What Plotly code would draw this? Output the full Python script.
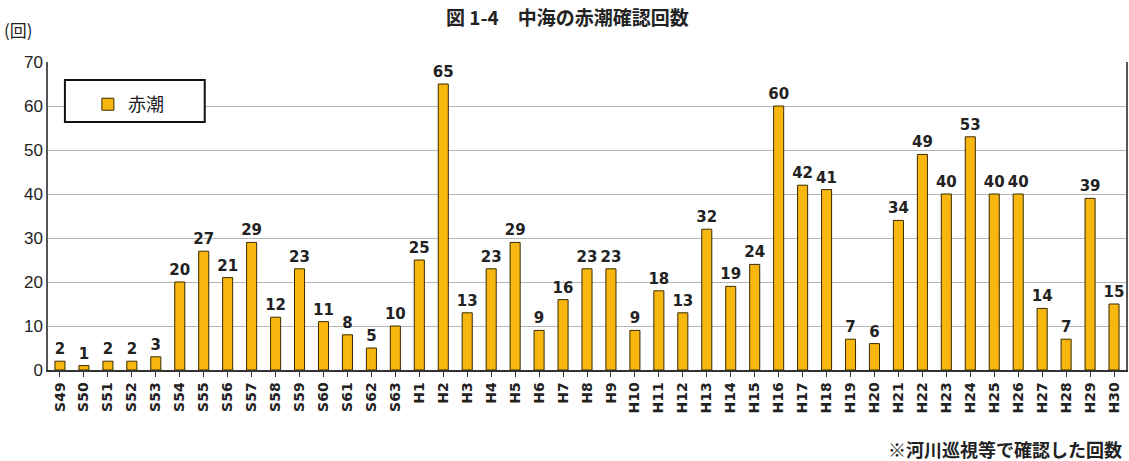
import plotly.graph_objects as go

categories = ["S49","S50","S51","S52","S53","S54","S55","S56","S57","S58","S59","S60","S61","S62","S63",
              "H1","H2","H3","H4","H5","H6","H7","H8","H9","H10","H11","H12","H13","H14","H15",
              "H16","H17","H18","H19","H20","H21","H22","H23","H24","H25","H26","H27","H28","H29","H30"]
values = [2,1,2,2,3,20,27,21,29,12,23,11,8,5,10,
          25,65,13,23,29,9,16,23,23,9,18,13,32,19,24,
          60,42,41,7,6,34,49,40,53,40,40,14,7,39,15]
y_ticks = [0,10,20,30,40,50,60,70]

fig = go.Figure()
fig.add_trace(go.Bar(
    x=categories, y=values, name="赤潮",
    marker=dict(color="#F7B70E", line=dict(color="#3a2a00", width=1)),
    width=0.42,
    text=[str(v) for v in values], textposition="outside", constraintext="none",
    textfont=dict(family="DejaVu Sans", size=15, color="#222", weight="bold"),
    cliponaxis=False,
))

fig.update_layout(
    width=1129, height=461,
    margin=dict(l=48, r=1, t=62, b=91),
    paper_bgcolor="white", plot_bgcolor="white",
    showlegend=True,
    legend=dict(x=0.037, y=0.922, xanchor="left", yanchor="top",
                borderwidth=0, bgcolor="rgba(0,0,0,0)",
                font=dict(family="Noto Sans CJK JP", size=18, color="#222"),
                itemwidth=30, traceorder="normal"),
    font=dict(family="Noto Sans CJK JP", color="#222"),
)
fig.add_shape(type="rect", xref="paper", yref="paper",
              x0=0.0157, x1=0.1454, y0=0.805, y1=0.9416,
              line=dict(color="#111", width=2), fillcolor="white", layer="above")
fig.update_xaxes(
    type="category", tickangle=-90,
    tickfont=dict(family="DejaVu Sans", size=14, color="#222", weight="bold"),
    ticks="outside", ticklen=5, tickcolor="#333",
    showline=True, linecolor="#333", linewidth=1.5,
    showgrid=False,
)
fig.update_yaxes(
    range=[0, 70], tickvals=y_ticks,
    tickfont=dict(family="Liberation Sans Narrow, Liberation Sans", size=17, color="#222"),
    showgrid=True, gridcolor="#b5b5b5", gridwidth=1,
    showline=True, linecolor="#555", linewidth=1.5, mirror=True,
    zeroline=False, ticks="",
)
fig.add_annotation(text="図 1-4　中海の赤潮確認回数", x=0.5, y=1, xref="paper", yref="paper",
                   xanchor="center", yanchor="bottom", yshift=30, xshift=-20, showarrow=False,
                   font=dict(family="Noto Sans CJK JP", size=19, color="#222", weight=600))
fig.add_annotation(text="(回)", x=0, y=1, xref="paper", yref="paper", xanchor="left", yanchor="bottom",
                   xshift=-46, yshift=18, showarrow=False,
                   font=dict(family="Noto Sans CJK JP", size=17, color="#222"))
fig.add_annotation(text="※河川巡視等で確認した回数", x=1, y=0, xref="paper", yref="paper",
                   xanchor="right", yanchor="top", yshift=-64, xshift=-2, showarrow=False,
                   font=dict(family="Noto Sans CJK JP", size=18, color="#222", weight=600))

fig.write_html("out.html", config={"displayModeBar": False},
               post_script="document.body.style.margin='0';")
